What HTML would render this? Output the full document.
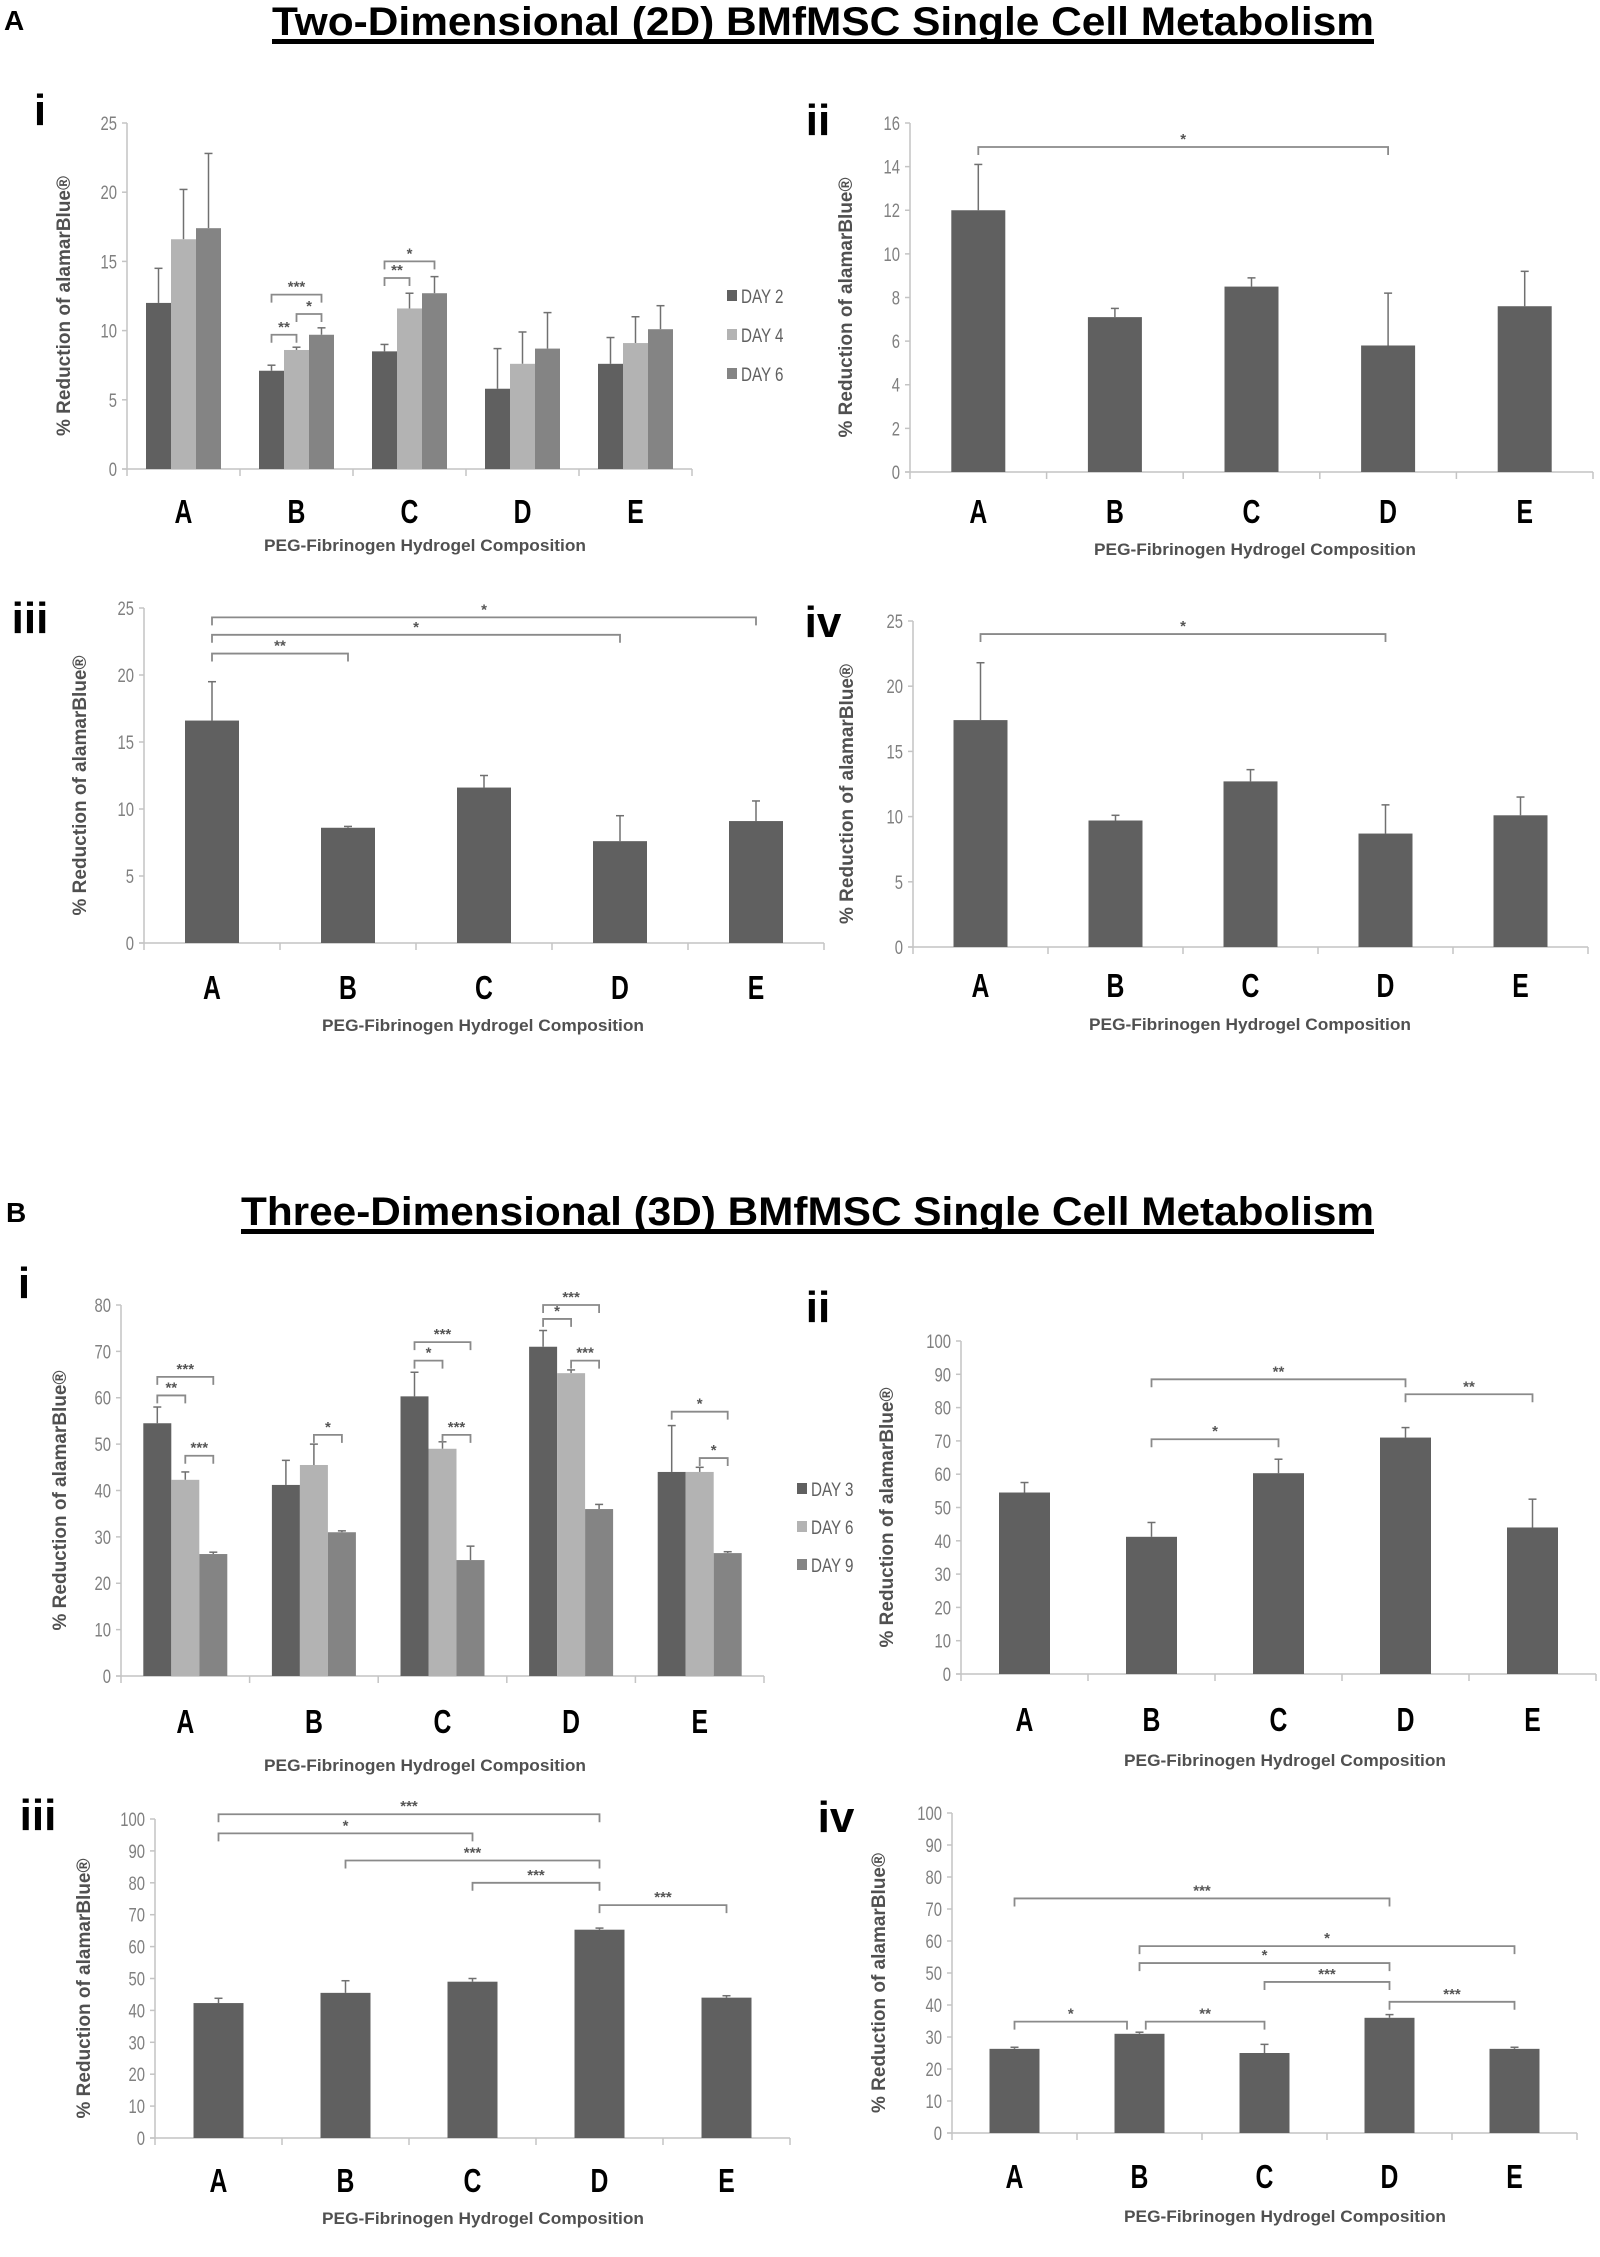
<!DOCTYPE html>
<html><head><meta charset="utf-8"><style>
html,body{margin:0;padding:0;background:#fff;}
svg{display:block;}
text{font-family:"Liberation Sans",sans-serif;}
</style></head><body>
<svg id="fig" width="1600" height="2257" viewBox="0 0 1600 2257" xmlns="http://www.w3.org/2000/svg">
<text x="4" y="30" font-size="28" font-weight="bold">A</text>
<text x="272" y="35" font-size="40" font-weight="bold" textLength="1102" lengthAdjust="spacingAndGlyphs">Two-Dimensional (2D) BMfMSC Single Cell Metabolism</text>
<rect x="272" y="39" width="1102" height="5" fill="#000"/>
<text x="6" y="1222" font-size="28" font-weight="bold">B</text>
<text x="241" y="1225" font-size="40" font-weight="bold" textLength="1133" lengthAdjust="spacingAndGlyphs">Three-Dimensional (3D) BMfMSC Single Cell Metabolism</text>
<rect x="241" y="1229" width="1133" height="5" fill="#000"/>
</svg>
<script>
// ---- data ----
const categories = ["A","B","C","D","E"];
// 2D panel i
const a1Day2 = [12.0,7.1,8.5,5.8,7.6];
const a1Day2Err = [14.5,7.5,9.0,8.7,9.5];
const a1Day4 = [16.6,8.6,11.6,7.6,9.1];
const a1Day4Err = [20.2,8.8,12.7,9.9,11.0];
const a1Day6 = [17.4,9.7,12.7,8.7,10.1];
const a1Day6Err = [22.8,10.2,13.9,11.3,11.8];
const a1Ticks = [0,5,10,15,20,25];
const a1Legend = ["DAY 2","DAY 4","DAY 6"];
// 2D panels ii-iv
const a2Values = [12.0,7.1,8.5,5.8,7.6];
const a2Err = [14.1,7.5,8.9,8.2,9.2];
const a2Ticks = [0,2,4,6,8,10,12,14,16];
const a3Values = [16.6,8.6,11.6,7.6,9.1];
const a3Err = [19.5,8.7,12.5,9.5,10.6];
const a3Ticks = [0,5,10,15,20,25];
const a4Values = [17.4,9.7,12.7,8.7,10.1];
const a4Err = [21.8,10.1,13.6,10.9,11.5];
const a4Ticks = [0,5,10,15,20,25];
// 3D panel i
const b1Day3 = [54.5,41.2,60.3,71.0,44.0];
const b1Day3Err = [58,46.5,65.5,74.5,54];
const b1Day6 = [42.3,45.5,49.0,65.3,44.0];
const b1Day6Err = [44,50,50.5,66,45];
const b1Day9 = [26.3,31.0,25.0,36.0,26.5];
const b1Day9Err = [26.7,31.3,28,37,26.8];
const b1Ticks = [0,10,20,30,40,50,60,70,80];
const b1Legend = ["DAY 3","DAY 6","DAY 9"];
// 3D panels ii-iv
const b2Values = [54.5,41.2,60.3,71.0,44.0];
const b2Err = [57.5,45.5,64.5,74,52.5];
const b3Values = [42.3,45.5,49.0,65.3,44.0];
const b3Err = [43.8,49.3,50,65.8,44.6];
const b4Values = [26.3,31.0,25.0,36.0,26.3];
const b4Err = [26.8,31.5,27.7,37,26.8];
const pctTicks = [0,10,20,30,40,50,60,70,80,90,100];
// significance brackets: [fromCat, toCat, level, label]
const a2Sig = [[0,3,14.9,"*"]];
const a3Sig = [[0,4,24.3,"*"],[0,3,23,"*"],[0,1,21.6,"**"]];
const a4Sig = [[0,3,24,"*"]];
const b2Sig = [[1,3,88.5,"**"],[3,4,84,"**"],[1,2,70.5,"*"]];
const b3Sig = [[0,3,101.5,"***"],[0,2,95.5,"*"],[1,3,87,"***"],[2,3,80,"***"],[3,4,73,"***"]];
const b4Sig = [[0,3,73.3,"***"],[1,4,58.4,"*"],[1,3,53.1,"*"],[2,3,47.2,"***"],[3,4,41,"***"],[0,0.9,34.8,"*"],[1.05,2,34.8,"**"]];
// within-group brackets: [cat, barFrom, barTo, level, label]
const a1Sig = [[1,0,1,9.7,"**"],[1,1,2,11.2,"*"],[1,0,2,12.6,"***"],[2,0,1,13.8,"**"],[2,0,2,15.0,"*"]];
const b1Sig = [[0,0,1,60.5,"**"],[0,0,2,64.5,"***"],[0,1,2,47.5,"***"],[1,1,2,52,"*"],[2,0,1,68,"*"],[2,0,2,72,"***"],[2,1,2,52,"***"],[3,0,1,77,"*"],[3,0,2,80,"***"],[3,1,2,68,"***"],[4,0,2,57,"*"],[4,1,2,47,"*"]];

// ---- rendering ----
const NS = "http://www.w3.org/2000/svg";
const svg = document.getElementById("fig");
function mk(tag, attrs, parent, txt){
  const e = document.createElementNS(NS, tag);
  for (const k in attrs) e.setAttribute(k, attrs[k]);
  if (txt !== undefined) e.textContent = txt;
  (parent||svg).appendChild(e);
  return e;
}
const COLS = ["#606060","#b3b3b3","#848484"];

function panel(cfg){
  const g = mk("g", {});
  
  
  const max = cfg.ticks[cfg.ticks.length-1];
  const y = v => cfg.y0 - (v/max)*(cfg.y0-cfg.yTop);
  const pitch = (cfg.xR - cfg.x0)/categories.length;
  const xc = i => cfg.x0 + pitch*(i+0.5);
  const pl = mk("text", {x:cfg.lx, y:cfg.ly, "font-size":44, "font-weight":"bold", "text-anchor":"middle"}, g, cfg.label);
  
  
  const ya = mk("line", {x1:cfg.x0, y1:cfg.yTop, x2:cfg.x0, y2:cfg.y0, stroke:"#c4c4c4", "stroke-width":1.5}, g);
  
  
  const xa = mk("line", {x1:cfg.x0-5, y1:cfg.y0, x2:cfg.xR, y2:cfg.y0, stroke:"#c4c4c4", "stroke-width":1.5}, g);
  
  
  for (let i=0;i<=categories.length;i++){
    const xt = cfg.x0 + pitch*i;
    mk("line", {x1:xt, y1:cfg.y0, x2:xt, y2:cfg.y0+7, stroke:"#c4c4c4", "stroke-width":1.5}, g);
  }
  cfg.ticks.forEach(t=>{
    mk("line", {x1:cfg.x0-5, y1:y(t), x2:cfg.x0, y2:y(t), stroke:"#c4c4c4", "stroke-width":1.5}, g);
    const tl = mk("text", {x:cfg.x0-10, y:y(t)+7, "font-size":19, fill:"#808080", "text-anchor":"end", transform:`translate(${cfg.x0-10},0) scale(0.78,1) translate(${-(cfg.x0-10)},0)`}, g, t);
    
    
  });
  categories.forEach((c,i)=>{
    const cx = xc(i) + (cfg.catDx||0);
    const cl = mk("text", {x:cx, y:cfg.catY+2, "font-size":33, "font-weight":"bold", "text-anchor":"middle", transform:`translate(${cx},0) scale(0.75,1) translate(${-cx},0)`}, g, c);
    
    
  });
  const xt = mk("text", {x:cfg.titleX, y:cfg.titleY, "font-size":17, "font-weight":"bold", fill:"#505050", "text-anchor":"middle", textLength:cfg.titleW, lengthAdjust:"spacingAndGlyphs"}, g, "PEG-Fibrinogen Hydrogel Composition");
  
  
  const ymid = (cfg.y0+cfg.yTop)/2 + 10;
  const yt = mk("text", {x:cfg.ylx, y:ymid, "font-size":19, "font-weight":"bold", fill:"#505050", "text-anchor":"middle", transform:`rotate(-90 ${cfg.ylx} ${ymid})`}, g, "% Reduction of alamarBlue®");
  
  

  const nS = cfg.series.length;
  const bw = cfg.barW;
  const bx = (i,s) => xc(i) - (nS*bw)/2 + s*bw;
  cfg.series.forEach((ser,s)=>{
    ser.vals.forEach((v,i)=>{
      const x = bx(i,s);
      const top = y(ser.err[i]);
      const el = mk("line", {x1:x+bw/2, y1:y(v), x2:x+bw/2, y2:top, stroke:"#707070", "stroke-width":1.5}, g);
      
      
      mk("line", {x1:x+bw/2-4, y1:top, x2:x+bw/2+4, y2:top, stroke:"#707070", "stroke-width":1.5}, g);
      const r = mk("rect", {x:x, y:y(v), width:bw, height:cfg.y0-y(v), fill:COLS[nS>1?s:0]}, g);
      
      
    });
  });
  function bracket(x1,x2,lv,lab){
    const yy = y(lv);
    const p = mk("path", {d:`M${x1} ${yy+8} L${x1} ${yy} L${x2} ${yy} L${x2} ${yy+8}`, fill:"none", stroke:"#8a8a8a", "stroke-width":1.8}, g);
    
    
    const t = mk("text", {x:(x1+x2)/2, y:yy-3, "font-size":15, "font-weight":"bold", fill:"#555", "text-anchor":"middle"}, g, lab);
    
    
  }
  (cfg.sig||[]).forEach(b=>{
    bracket(cfg.x0+pitch*(b[0]+0.5), cfg.x0+pitch*(b[1]+0.5), b[2], b[3]);
  });
  (cfg.gsig||[]).forEach(b=>{
    bracket(bx(b[0],b[1])+bw/2, bx(b[0],b[2])+bw/2, b[3], b[4]);
  });
  if (cfg.legend){
    cfg.legend.forEach((lab,k)=>{
      const ly = cfg.legY + k*cfg.legGap;
      const sq = mk("rect", {x:cfg.legX, y:ly-6, width:10, height:11, fill:COLS[k]}, g);
      
      
      const lt = mk("text", {x:cfg.legX+14, y:ly+7, "font-size":19, fill:"#606060", transform:`translate(${cfg.legX+14},0) scale(0.8,1) translate(${-(cfg.legX+14)},0)`}, g, lab);
      
      
    });
  }
}

panel({name:"chart-2d-i", label:"i", lx:40, ly:125, x0:127, xR:692, y0:469, yTop:123, ticks:a1Ticks, barW:25,
  series:[{vals:a1Day2,err:a1Day2Err},{vals:a1Day4,err:a1Day4Err},{vals:a1Day6,err:a1Day6Err}],
  gsig:a1Sig, catY:521, titleX:425, titleY:551, titleW:322, ylx:70, legend:a1Legend, legX:727, legY:296, legGap:39});
panel({name:"chart-2d-ii", label:"ii", lx:818, ly:135, x0:910, xR:1593, y0:472, yTop:123, ticks:a2Ticks, barW:54,
  series:[{vals:a2Values,err:a2Err}], sig:a2Sig, catY:521, titleX:1255, titleY:555, titleW:322, ylx:852});
panel({name:"chart-2d-iii", label:"iii", lx:30, ly:633, x0:144, xR:824, y0:943, yTop:608, ticks:a3Ticks, barW:54,
  series:[{vals:a3Values,err:a3Err}], sig:a3Sig, catY:997, titleX:483, titleY:1031, titleW:322, ylx:86});
panel({name:"chart-2d-iv", label:"iv", lx:823, ly:637, x0:913, xR:1588, y0:947, yTop:621, ticks:a4Ticks, barW:54,
  series:[{vals:a4Values,err:a4Err}], sig:a4Sig, catY:995, titleX:1250, titleY:1030, titleW:322, ylx:853});
panel({name:"chart-3d-i", label:"i", lx:24, ly:1298, x0:121, xR:764, y0:1676, yTop:1305, ticks:b1Ticks, barW:28,
  series:[{vals:b1Day3,err:b1Day3Err},{vals:b1Day6,err:b1Day6Err},{vals:b1Day9,err:b1Day9Err}],
  gsig:b1Sig, catY:1731, titleX:425, titleY:1771, titleW:322, ylx:66, legend:b1Legend, legX:797, legY:1489, legGap:38});
panel({name:"chart-3d-ii", label:"ii", lx:818, ly:1322, x0:961, xR:1596, y0:1674, yTop:1341, ticks:pctTicks, barW:51,
  series:[{vals:b2Values,err:b2Err}], sig:b2Sig, catY:1729, titleX:1285, titleY:1766, titleW:322, ylx:893});
panel({name:"chart-3d-iii", label:"iii", lx:38, ly:1830, x0:155, xR:790, y0:2138, yTop:1819, ticks:pctTicks, barW:50,
  series:[{vals:b3Values,err:b3Err}], sig:b3Sig, catY:2190, titleX:483, titleY:2224, titleW:322, ylx:90});
panel({name:"chart-3d-iv", label:"iv", lx:836, ly:1832, x0:952, xR:1577, y0:2133, yTop:1813, ticks:pctTicks, barW:50,
  series:[{vals:b4Values,err:b4Err}], sig:b4Sig, catY:2186, titleX:1285, titleY:2222, titleW:322, ylx:885});
</script>
</body></html>
